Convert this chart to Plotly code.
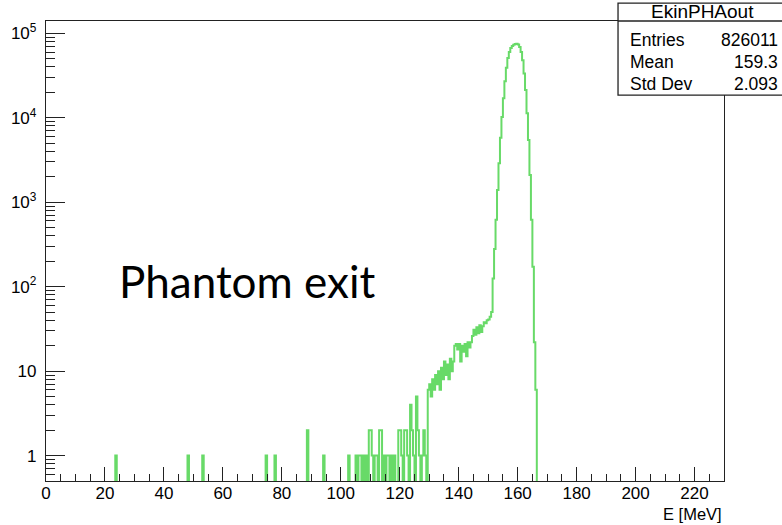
import numpy as np
import plotly.graph_objects as go

# Histogram EkinPHAout: 460 bins of 0.5 MeV over 0-230 MeV.
# Only non-empty bins are listed (lower bin edge in MeV, entries).
tail_edges = [23.5, 48.0, 53.0, 74.5, 77.5, 88.5, 94.0, 102.5,
              105.0, 106.0, 106.5, 107.5, 108.5, 109.5, 110.0, 110.5,
              111.5, 112.0, 113.0, 113.5, 114.5, 115.5, 116.0, 117.0,
              118.0, 119.5, 120.0, 120.5, 121.5, 122.0, 122.5, 123.5,
              124.0, 124.5, 125.5, 126.0, 126.5, 127.5, 128.0, 128.5]
tail_counts = [1, 1, 1, 1, 1, 2, 1, 1,
               1, 1, 1, 1, 1, 2, 2, 1,
               1, 1, 2, 2, 1, 1, 1, 1,
               1, 2, 2, 1, 2, 2, 1, 4,
               2, 1, 5, 2, 1, 1, 2, 1]

rise_edges = [129.5, 130.0, 130.5, 131.0, 131.5, 132.0, 132.5, 133.0,
              133.5, 134.0, 134.5, 135.0, 135.5, 136.0, 136.5, 137.0,
              137.5, 138.0, 138.5, 139.0, 139.5, 140.0, 140.5, 141.0,
              141.5, 142.0, 142.5, 143.0, 143.5, 144.0, 144.5, 145.0,
              145.5, 146.0, 146.5, 147.0, 147.5, 148.0, 148.5, 149.0,
              149.5, 150.0, 150.5, 151.0]
rise_counts = [6, 7, 5, 8, 6, 9, 7, 10,
               6, 11, 8, 13, 9, 12, 8, 14,
               10, 13, 20, 21, 18, 21, 13, 20,
               17, 21, 15, 22, 19, 22, 26, 31,
               27, 33, 28, 35, 29, 34, 38, 37,
               40, 41, 44, 50]

peak_edges = [151.5, 152.0, 152.5, 153.0, 153.5, 154.0, 154.5, 155.0,
              155.5, 156.0, 156.5, 157.0, 157.5, 158.0, 158.5, 159.0,
              159.5, 160.0, 160.5, 161.0, 161.5, 162.0, 162.5, 163.0,
              163.5, 164.0, 164.5, 165.0, 165.5, 166.0]
peak_counts = [125, 280, 620, 1400, 2900, 5800, 10200, 17000,
               27000, 39000, 51000, 60000, 67000, 71000, 73500, 75000,
               75500, 74000, 69000, 60000, 48000, 33500, 21300, 11300,
               5450, 2100, 620, 172, 22, 6]

# Statistics box contents
stats_title = "EkinPHAout"
stats_names = ["Entries", "Mean", "Std Dev"]
stats_values = ["826011", "159.3", "2.093"]

x_tick_vals = list(range(0, 221, 20))
y_tick_vals = [1, 10, 100, 1000, 10000, 100000]
y_tick_text = ["1", "10", "10<sup>2</sup>", "10<sup>3</sup>",
               "10<sup>4</sup>", "10<sup>5</sup>"]

# ---- fill the full binning ----
bin_width = 0.5
n_bins = 460
edges = np.arange(n_bins + 1) * bin_width
counts = np.zeros(n_bins)
for lo, c in zip(tail_edges + rise_edges + peak_edges,
                 tail_counts + rise_counts + peak_counts):
    counts[int(round(lo / bin_width))] = c

# empty bins are pushed below the log-axis floor so the outline drops to the frame
y_floor = 1e-3
y_plot = np.where(counts > 0, counts, y_floor)
xs = np.append(edges[:-1], edges[-1])
ys = np.append(y_plot, y_plot[-1])

line_green = "rgb(104,218,104)"
axis_col = "#222222"
font_main = "Liberation Sans, Arial, Helvetica, sans-serif"

fig = go.Figure()
fig.add_trace(go.Scatter(
    x=xs, y=ys, mode="lines", line_shape="hv",
    line=dict(color=line_green, width=2), hoverinfo="skip",
    showlegend=False))

fig.update_layout(
    width=782, height=525,
    margin=dict(l=46, r=58, t=21, b=44),
    paper_bgcolor="white", plot_bgcolor="white",
    font=dict(family=font_main, size=17, color="black"),
    showlegend=False,
)

fig.update_xaxes(
    range=[0, 230], showgrid=False, zeroline=False,
    showline=True, linecolor=axis_col, linewidth=1.3, mirror=True,
    ticks="inside", ticklen=14, tickcolor=axis_col, tickwidth=1.3,
    tickvals=x_tick_vals, ticktext=[str(v) for v in x_tick_vals],
    tickfont=dict(size=17), ticklabelstandoff=-4,
    minor=dict(ticks="inside", ticklen=7, dtick=5, tick0=0,
               tickcolor=axis_col, tickwidth=1.3, showgrid=False),
)
fig.update_yaxes(
    type="log", range=[np.log10(0.5), np.log10(1.4e5)],
    showgrid=False, zeroline=False,
    showline=True, linecolor=axis_col, linewidth=1.3, mirror=True,
    ticks="inside", ticklen=19, tickcolor=axis_col, tickwidth=1.3,
    tickvals=y_tick_vals, ticktext=y_tick_text,
    tickfont=dict(size=17), ticklabelstandoff=5,
    minor=dict(ticks="inside", ticklen=9, dtick="D1",
               tickcolor=axis_col, tickwidth=1.3, showgrid=False),
)

# axis title at the right end of the x axis
fig.add_annotation(text="E [MeV]", xref="paper", yref="paper",
                   x=1.0, y=-0.071, xanchor="right", yanchor="middle",
                   showarrow=False, font=dict(size=16.5, family=font_main))

# big label inside the frame
fig.add_annotation(text="Phantom exit", xref="paper", yref="paper",
                   x=0.104, y=0.435, xanchor="left", yanchor="middle",
                   showarrow=False,
                   font=dict(size=44, family="Lato, Carlito, Calibri, sans-serif",
                             color="black"))

# statistics box
box_x0, box_x1 = 0.8437, 1.10
box_y0, box_y1 = 0.839, 1.039
fig.add_shape(type="rect", xref="paper", yref="paper",
              x0=box_x0, x1=box_x1, y0=box_y0, y1=box_y1,
              line=dict(color=axis_col, width=1.3), fillcolor="white",
              layer="above")
fig.add_shape(type="line", xref="paper", yref="paper",
              x0=box_x0, x1=box_x1, y0=1.0, y1=1.0,
              line=dict(color=axis_col, width=1.3), layer="above")
fig.add_annotation(text=stats_title, xref="paper", yref="paper",
                   x=0.969, y=1.0196, xanchor="center",
                   yanchor="middle", showarrow=False,
                   font=dict(size=19, family=font_main))
row_y = [0.9587, 0.9109, 0.863]
for name, val, yy in zip(stats_names, stats_values, row_y):
    fig.add_annotation(text=name, xref="paper", yref="paper",
                       x=0.858, y=yy, xanchor="left", yanchor="middle",
                       showarrow=False, font=dict(size=17.5, family=font_main))
    fig.add_annotation(text=val, xref="paper", yref="paper",
                       x=1.082, y=yy, xanchor="right", yanchor="middle",
                       showarrow=False, font=dict(size=17.5, family=font_main))

fig.write_html("out.html")
